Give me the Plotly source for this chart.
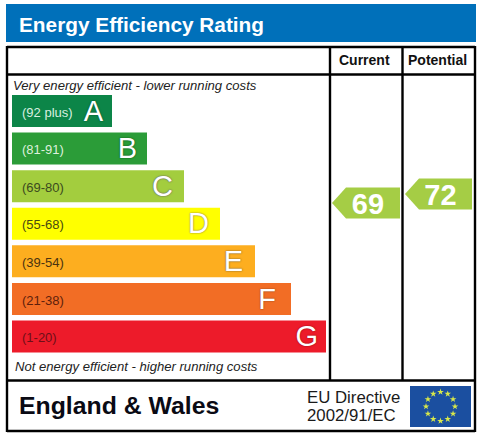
import math

import plotly.graph_objects as go

WIDTH = 482
HEIGHT = 437
FONT = "Liberation Sans, Arial, sans-serif"

# rating bands, top to bottom
letters = ["A", "B", "C", "D", "E", "F", "G"]
band_labels = ["(92 plus)", "(81-91)", "(69-80)", "(55-68)", "(39-54)", "(21-38)", "(1-20)"]
band_lengths = [100, 135, 172, 208, 243, 279, 314]
band_colors = ["#0C8548", "#2B9C38", "#A3CD3E", "#FFFF00", "#FDAE1F", "#F26D25", "#ED1B2A"]
label_colors = ["#D8EFE0", "#DDF0DC", "#3C4A1E", "#4A4A10", "#4A3310", "#5E1F0C", "#6E0F18"]
letter_shadows = ["#0A5A30", "#14601E", "#666666", "#A08A40", "#8A6A30", "#A05020", "#A01018"]

# score arrows
arrow_names = ["Current", "Potential"]
arrow_scores = [69, 72]
arrow_tips = [332, 405]
arrow_necks = [346, 419]
arrow_ends = [400, 472]
arrow_color = "#A5CD45"

flag_star_hours = [1, 2, 3, 4, 5, 6, 7, 8, 9, 10, 11, 12]

BAR_LEFT = 12
BAR_TOP = 92.2
BAR_BOTTOM = 355.3
LABEL_DROP = 2.5  # band text sits a little under the bar centre
LETTER_PADS = [9, 10, 11, 11, 12, 15, 8]
# score axis: 3 px per point, 69 sits at y=203
SCORE_TOP = 111.33
SCORE_BOTTOM = 10.0
ARROW_HALF = 5.2
NUMBER_DROP = 1.2


def _domain(top, bottom):
    return [1 - bottom / HEIGHT, 1 - top / HEIGHT]


def _frame_line(x0, y0, x1, y1):
    return dict(type="line", x0=x0, y0=y0, x1=x1, y1=y1, xref="x", yref="y",
                line=dict(color="#000000", width=2.4))


def _text(x, y, text, size, color="#000000", anchor="left", weight=None):
    return dict(x=x, y=y, xref="x", yref="y", text=text, showarrow=False, xanchor=anchor,
                yanchor="middle", borderpad=0,
                font=dict(family=FONT, size=size, color=color, weight=weight))


fig = go.Figure()

# rating bars
fig.add_trace(go.Bar(
    y=letters, x=band_lengths, base=BAR_LEFT, orientation="h", width=0.85,
    marker=dict(color=band_colors, line=dict(width=0)),
    yaxis="y2", showlegend=False, hoverinfo="skip",
))
fig.add_trace(go.Scatter(
    y=letters, x=[BAR_LEFT + 10] * len(letters), text=band_labels, mode="text",
    textposition="middle right", yaxis="y4", showlegend=False, hoverinfo="skip",
    textfont=dict(family=FONT, size=13, color=label_colors),
))
for letter, length, shadow, pad in zip(letters, band_lengths, letter_shadows, LETTER_PADS):
    fig.add_trace(go.Scatter(
        y=[letter], x=[BAR_LEFT + length - pad], text=[letter], mode="text",
        textposition="middle left", yaxis="y4", showlegend=False, hoverinfo="skip",
        textfont=dict(family=FONT, size=29, color="#FFFFFF",
                      shadow=f"0 0 2px {shadow}, 0 0 1px {shadow}"),
    ))

# score arrows
for name, score, tip, neck, end in zip(arrow_names, arrow_scores, arrow_tips, arrow_necks, arrow_ends):
    fig.add_trace(go.Scatter(
        x=[tip, neck, end, end, neck, tip],
        y=[score, score + ARROW_HALF, score + ARROW_HALF, score - ARROW_HALF, score - ARROW_HALF, score],
        mode="lines", fill="toself", fillcolor=arrow_color, line=dict(width=0),
        yaxis="y3", name=name, showlegend=False, hoverinfo="skip",
    ))
    fig.add_trace(go.Scatter(
        x=[(neck + end) / 2 - 5], y=[score - NUMBER_DROP], text=[str(score)], mode="text",
        textposition="middle center", yaxis="y3", showlegend=False, hoverinfo="skip",
        textfont=dict(family=FONT, size=29, color="#FFFFFF", weight="bold"),
    ))

# EU flag stars
fig.add_trace(go.Scatter(
    x=[440.5 + 14.5 * math.sin(math.radians(h * 30)) for h in flag_star_hours],
    y=[406.5 - 14.5 * math.cos(math.radians(h * 30)) for h in flag_star_hours],
    mode="markers", showlegend=False, hoverinfo="skip",
    marker=dict(symbol="star", size=5, color="#D8E84A", line=dict(width=0)),
))

shapes = [
    dict(type="rect", x0=6, y0=4, x1=476, y1=42, xref="x", yref="y",
         fillcolor="#0070BA", line=dict(width=0), layer="below"),
    dict(type="rect", x0=410, y0=386, x1=471, y1=427, xref="x", yref="y",
         fillcolor="#1B4FA0", line=dict(width=0), layer="below"),
    _frame_line(7, 47, 475, 47),
    _frame_line(7, 74.5, 475, 74.5),
    _frame_line(7, 380.5, 475, 380.5),
    _frame_line(7, 431, 475, 431),
    _frame_line(7, 46, 7, 432),
    _frame_line(475, 46, 475, 432),
    _frame_line(330, 46, 330, 380),
    _frame_line(402.5, 46, 402.5, 380),
]

annotations = [
    _text(18, 24, "Energy Efficiency Rating", 20.8, "#FFFFFF", weight="bold"),
    _text(364, 60, "Current", 14, "#111111", "center", "bold"),
    _text(437.5, 60, "Potential", 14, "#111111", "center", "bold"),
    _text(12, 85, "<i>Very energy efficient - lower running costs</i>", 13.1, "#222222"),
    _text(14, 366, "<i>Not energy efficient - higher running costs</i>", 13.1, "#222222"),
    _text(18, 405, "England &amp; Wales", 24.8, "#0A0A14", weight="bold"),
    _text(306, 397, "EU Directive", 16.8, "#1A1A1A"),
    _text(306, 415, "2002/91/EC", 16.8, "#1A1A1A"),
]

hidden = dict(visible=False, fixedrange=True)
category_axis = dict(type="category", categoryorder="array", categoryarray=letters,
                     range=[6.5, -0.5], anchor="x", **hidden)
fig.update_layout(
    width=WIDTH,
    height=HEIGHT,
    margin=dict(l=0, r=0, t=0, b=0),
    paper_bgcolor="#FFFFFF",
    plot_bgcolor="rgba(0,0,0,0)",
    showlegend=False,
    shapes=shapes,
    annotations=annotations,
    xaxis=dict(range=[0, WIDTH], domain=[0, 1], **hidden),
    yaxis=dict(range=[HEIGHT, 0], domain=[0, 1], **hidden),
    yaxis2=dict(domain=_domain(BAR_TOP, BAR_BOTTOM), **category_axis),
    yaxis3=dict(range=[SCORE_BOTTOM, SCORE_TOP], domain=_domain(76, 380), anchor="x", **hidden),
    yaxis4=dict(domain=_domain(BAR_TOP + LABEL_DROP, BAR_BOTTOM + LABEL_DROP), **category_axis),
)

# the page's default body margin would push the figure 8px in
fig.write_html("out.html", config={"displayModeBar": False},
               post_script="document.body.style.margin = '0';")
